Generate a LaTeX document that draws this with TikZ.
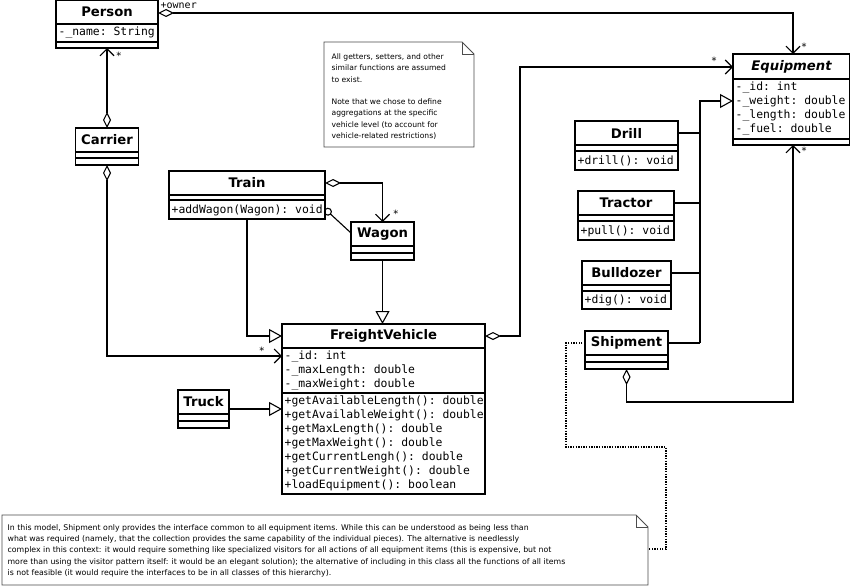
\documentclass[tikz,border=0pt]{standalone}
\usepackage{fontspec}
\setmainfont{DejaVu Sans}
\setmonofont{DejaVu Sans Mono}
\usetikzlibrary{arrows.meta}
\begin{document}
\begin{tikzpicture}[x=1pt,y=-1pt,line width=1.3pt,
  box/.style={draw,line width=1.3pt,anchor=north west,inner sep=0,outer sep=0},
  ttl/.style={font=\bfseries\fontsize{13.2}{13}\selectfont,inner sep=0},
  ttli/.style={font=\bfseries\itshape\fontsize{13.2}{13}\selectfont,inner sep=0},
  mono/.style={font=\ttfamily\fontsize{11.4}{14}\selectfont,inner sep=0,anchor=west,align=left},
  mult/.style={font=\ttfamily\fontsize{10}{10}\selectfont,inner sep=0},
  conn/.style={line width=1.1pt},
  agg/.style={{Diamond[open,length=16pt,width=8pt,line width=1.1pt]}-{Straight Barb[length=7pt,width=14pt,line width=1.1pt]}},
  gen/.style={-{Triangle[open,length=13pt,width=14pt,line width=1.1pt]}},
  notefont/.style={font=\fontsize{7.6}{11.3}\selectfont,inner sep=0,anchor=north west,align=left}]
\useasboundingbox (0,0) rectangle (850,586);
\fill[white] (0,0) rectangle (850,586);
% Person
\node[box,minimum width=102,minimum height=48] (person) at (56,0) {};
\draw (56,24) -- (158,24) (56,42) -- (158,42);
\node[ttl] (personT) at (107,12) {Person};
\node[mono] (personA) at (58,33) {-\_name: String};
% Carrier
\node[box,minimum width=63,minimum height=37] (carrier) at (75.5,128) {};
\draw (75.5,152) -- (138.5,152) (75.5,158) -- (138.5,158);
\node[ttl] (carrierT) at (107,140) {Carrier};
% Train
\node[box,minimum width=156,minimum height=48] (train) at (169,171) {};
\draw (169,195) -- (325,195) (169,200) -- (325,200);
\node[ttl] (trainT) at (247,183) {Train};
\node[mono] (trainM) at (171,210) {+addWagon(Wagon): void};
% Wagon
\node[box,minimum width=63,minimum height=38] (wagon) at (351,222) {};
\draw (351,246) -- (414,246) (351,253) -- (414,253);
\node[ttl] (wagonT) at (382.5,234) {Wagon};
% FreightVehicle
\node[box,minimum width=203,minimum height=170] (fv) at (282,324) {};
\draw (282,348) -- (485,348) (282,393) -- (485,393);
\node[ttl] (fvT) at (383.5,336) {FreightVehicle};
\node[mono] (fvA) at (284,370.5) {-\_id: int\\-\_maxLength: double\\-\_maxWeight: double};
\node[mono] (fvM) at (284,443.5) {+getAvailableLength(): double\\+getAvailableWeight(): double\\+getMaxLength(): double\\+getMaxWeight(): double\\+getCurrentLengh(): double\\+getCurrentWeight(): double\\+loadEquipment(): boolean};
% Truck
\node[box,minimum width=51,minimum height=38] (truck) at (178,390) {};
\draw (178,414) -- (229,414) (178,421) -- (229,421);
\node[ttl] (truckT) at (203.5,402) {Truck};
% Equipment
\node[box,minimum width=117,minimum height=91] (equip) at (733,54) {};
\draw (733,79) -- (850,79) (733,139) -- (850,139);
\node[ttli] (equipT) at (791.5,67) {Equipment};
\node[mono] (equipA) at (735,109) {-\_id: int\\-\_weight: double\\-\_length: double\\-\_fuel: double};
% Drill
\node[box,minimum width=103,minimum height=49] (drill) at (575,121) {};
\draw (575,145) -- (678,145) (575,151) -- (678,151);
\node[ttl] (drillT) at (626.5,133) {Drill};
\node[mono] (drillM) at (577,161) {+drill(): void};
% Tractor
\node[box,minimum width=96,minimum height=49] (tractor) at (578,191) {};
\draw (578,215) -- (674,215) (578,221) -- (674,221);
\node[ttl] (tractorT) at (626,203) {Tractor};
\node[mono] (tractorM) at (580,231) {+pull(): void};
% Bulldozer
\node[box,minimum width=89,minimum height=48] (bull) at (582,261) {};
\draw (582,285) -- (671,285) (582,291) -- (671,291);
\node[ttl] (bullT) at (626.5,273) {Bulldozer};
\node[mono] (bullM) at (584,300) {+dig(): void};
% Shipment
\node[box,minimum width=83,minimum height=38] (ship) at (585,331) {};
\draw (585,355) -- (668,355) (585,362) -- (668,362);
\node[ttl] (shipT) at (626.5,343) {Shipment};
% Notes
\draw[line width=0.8pt,draw=black!70] (324,42) -- (462,42) -- (474,54) -- (474,147) -- (324,147) -- cycle;
\draw[line width=0.8pt,draw=black!70] (462,42) -- (462,54) -- (474,54);
\node[notefont] (note1T) at (331,53) {All getters, setters, and other\\similar functions are assumed\\to exist.\\[11.3pt]Note that we chose to define\\aggregations at the specific\\vehicle level (to account for\\vehicle-related restrictions)};
\draw[line width=0.8pt,draw=black!70] (2,515) -- (636,515) -- (648,527) -- (648,585) -- (2,585) -- cycle;
\draw[line width=0.8pt,draw=black!70] (636,515) -- (636,527) -- (648,527);
\coordinate (note2) at (648,549);
\node[notefont,font=\fontsize{7.8}{11.2}\selectfont] (note2T) at (7,524) {In this model, Shipment only provides the interface common to all equipment items. While this can be understood as being less than\\what was required (namely, that the collection provides the same capability of the individual pieces). The alternative is needlessly\\complex in this context: it would require something like specialized visitors for all actions of all equipment items (this is expensive, but not\\more than using the visitor pattern itself: it would be an elegant solution); the alternative of including in this class all the functions of all items\\is not feasible (it would require the interfaces to be in all classes of this hierarchy).};
% Connectors
\draw[conn,agg] (person.east |- 0,13) -- (793,13) -- (equip.north -| 793,0);
\node[mono,font=\ttfamily\fontsize{10}{10}\selectfont] (owner) at (160,6) {+owner};
\node[mult] (m1) at (804,47) {*};
\draw[conn,agg] (carrier.north) -- (carrier.north |- person.south);
\node[mult] (m2) at (119,56) {*};
\draw[conn,agg] (carrier.south) -- (carrier.south |- 0,356) -- (fv.west |- 0,356);
\node[mult] (m3) at (262,351) {*};
\draw[conn,agg] (train.east |- 0,183) -- (wagon.north |- 0,183) -- (wagon.north);
\node[mult] (m4) at (396,214) {*};
\draw[conn,{Circle[open,length=8pt,line width=1.1pt]}-] (325,209) -- (wagon.west |- 0,233);
\draw[conn,gen] (train.south) -- (train.south |- 0,336) -- (fv.west |- 0,336);
\draw[conn,gen] (wagon.south) -- (wagon.south |- fv.north);
\draw[conn,gen] (truck.east) -- (truck.east -| fv.west);
\draw[conn,agg] (fv.east |- 0,336) -- (520,336) -- (520,67) -- (equip.west |- 0,67);
\node[mult] (m5) at (714,61) {*};
\draw[conn] (drill.east |- 0,133) -- (700,133) (tractor.east |- 0,203) -- (700,203) (bull.east |- 0,273) -- (700,273) (ship.east |- 0,343) -- (700,343);
\draw[conn,gen] (700,343) -- (700,101) -- (equip.west |- 0,101);
\draw[conn,agg] (ship.south) -- (ship.south |- 0,402) -- (793,402) -- (equip.south -| 793,0);
\node[mult] (m6) at (804,151) {*};
\draw[line width=1.3pt,dash pattern=on 1.3pt off 1.3pt] (ship.west |- 0,343) -- (566,343) -- (566,447) -- (666,447) -- (666,549) -- (note2);
\end{tikzpicture}
\end{document}
